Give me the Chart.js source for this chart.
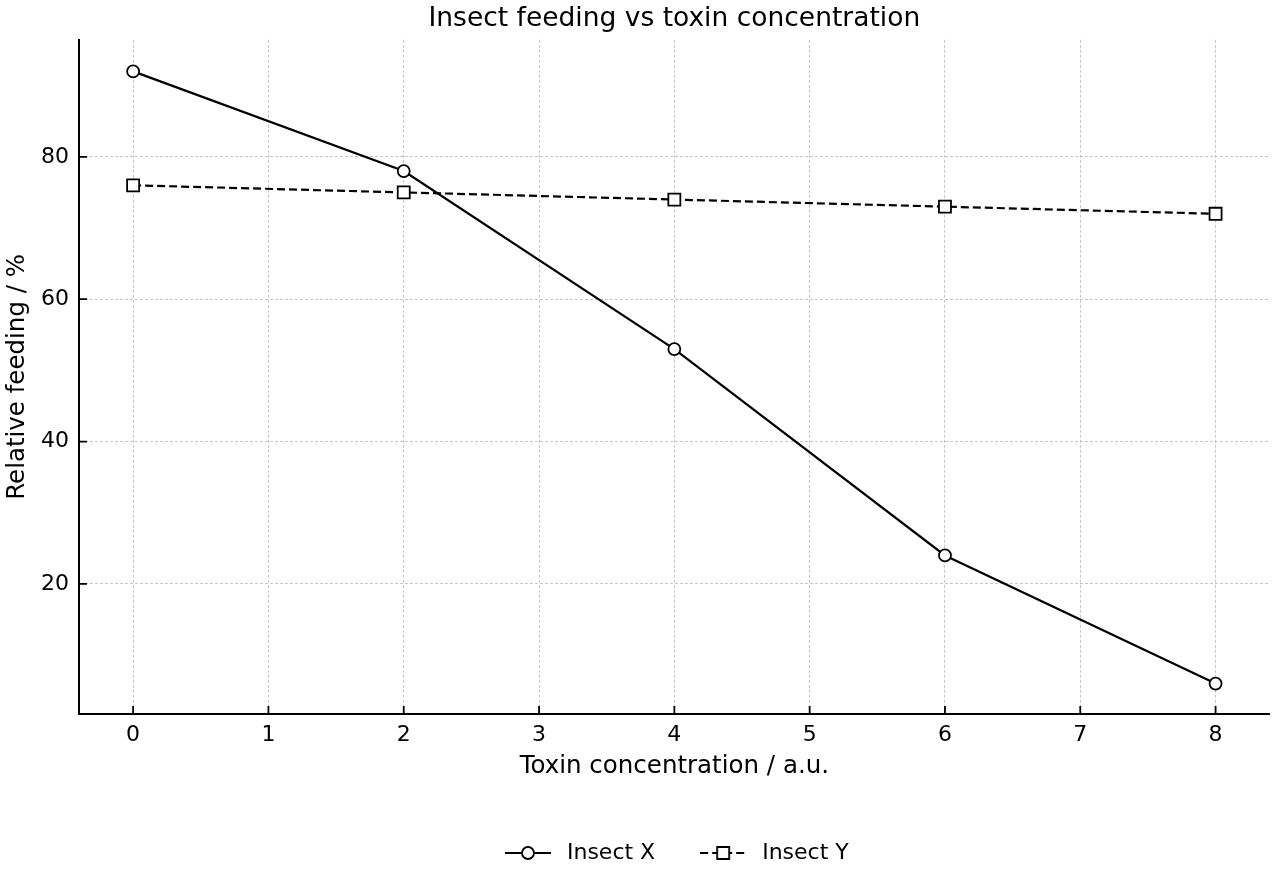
<!DOCTYPE html>
<html>
<head>
<meta charset="utf-8">
<title>Insect feeding vs toxin concentration</title>
<script src="https://cdn.jsdelivr.net/npm/chart.js@4.4.1/dist/chart.umd.min.js"></script>
<style>
  html, body { margin: 0; padding: 0; background: #fff; }
  #wrap { width: 1280px; height: 880px; }
</style>
</head>
<body>
<div id="wrap"><canvas id="chart" width="1280" height="880"></canvas></div>
<script>
// Dados do gráfico
const concentrations = [0, 2, 4, 6, 8];
const insectX = [92, 78, 53, 24, 6];
const insectY = [76, 75, 74, 73, 72];
const xTicks = [0, 1, 2, 3, 4, 5, 6, 7, 8];
const yTicks = [20, 40, 60, 80];

const FONT = '"DejaVu Sans", sans-serif';
Chart.defaults.font.family = FONT;
Chart.defaults.color = '#000';

const toPoints = (vals) => concentrations.map((c, i) => ({ x: c, y: vals[i] }));

// Amostra da legenda: linha + marcador
const legendSample = (style, dashed) => {
    const c = document.createElement('canvas');
    c.width = 46; c.height = 20;
    const g = c.getContext('2d');
    g.strokeStyle = '#000';
    g.lineWidth = 2.2;
    if (dashed) g.setLineDash([8, 4]);
    g.beginPath(); g.moveTo(0, 10); g.lineTo(46, 10); g.stroke();
    g.setLineDash([]);
    g.fillStyle = '#fff';
    g.lineWidth = 1.8;
    g.beginPath();
    if (style === 'circle') g.arc(23, 10, 6, 0, Math.PI * 2);
    else g.rect(17, 4, 12, 12);
    g.fill(); g.stroke();
    return c;
};

// Marcas de escala para dentro
const inwardTicks = {
    id: 'inwardTicks',
    afterDraw(chart) {
        const { ctx, chartArea, scales } = chart;
        ctx.save();
        ctx.strokeStyle = '#000';
        ctx.lineWidth = 1.8;
        ctx.beginPath();
        xTicks.forEach(v => {
            const px = scales.x.getPixelForValue(v);
            ctx.moveTo(px, chartArea.bottom);
            ctx.lineTo(px, chartArea.bottom - 8);
        });
        yTicks.forEach(v => {
            const py = scales.y.getPixelForValue(v);
            ctx.moveTo(chartArea.left, py);
            ctx.lineTo(chartArea.left + 8, py);
        });
        ctx.stroke();
        ctx.restore();
    }
};

const gridStyle = {
    color: '#b8b8b8',
    lineWidth: 0.8,
    drawTicks: false
};

new Chart(document.getElementById('chart'), {
    type: 'line',
    data: {
        datasets: [{
            label: 'Insect X',
            data: toPoints(insectX),
            borderColor: '#000',
            borderWidth: 2.2,
            pointStyle: 'circle',
            pointRadius: 6,
            pointBackgroundColor: '#fff',
            pointBorderColor: '#000',
            pointBorderWidth: 1.8,
            tension: 0
        }, {
            label: 'Insect Y',
            data: toPoints(insectY),
            borderColor: '#000',
            borderWidth: 2.2,
            borderDash: [8, 4],
            pointStyle: 'rect',
            pointRadius: 8.5,
            pointBackgroundColor: '#fff',
            pointBorderColor: '#000',
            pointBorderWidth: 1.8,
            tension: 0
        }]
    },
    options: {
        responsive: false,
        animation: false,
        layout: { padding: { left: 0, right: 0, top: 0, bottom: 6 } },
        plugins: {
            title: {
                display: true,
                fullSize: false,
                text: 'Insect feeding vs toxin concentration',
                font: { size: 26.5, weight: 'normal' },
                color: '#000',
                padding: { top: 3, bottom: 5 }
            },
            legend: {
                position: 'bottom',
                fullSize: false,
                labels: {
                    usePointStyle: true,
                    pointStyleWidth: 56,
                    padding: 40,
                    font: { size: 22 },
                    color: '#000',
                    generateLabels: () => [
                        { text: 'Insect X', pointStyle: legendSample('circle', false), datasetIndex: 0, lineWidth: 0, strokeStyle: 'transparent', fillStyle: 'transparent' },
                        { text: 'Insect Y', pointStyle: legendSample('rect', true), datasetIndex: 1, lineWidth: 0, strokeStyle: 'transparent', fillStyle: 'transparent' }
                    ]
                }
            },
            tooltip: { enabled: false }
        },
        scales: {
            x: {
                type: 'linear',
                min: -0.4,
                max: 8.4,
                afterBuildTicks: (s) => { s.ticks = xTicks.map(v => ({ value: v })); },
                afterFit: (s) => { s.height = 88; s.paddingLeft = 0; s.paddingRight = 0; },
                grid: { ...gridStyle },
                border: { display: true, color: '#000', width: 2, dash: [3, 2] },
                ticks: { padding: 8, font: { size: 22 }, color: '#000' },
                title: {
                    display: true,
                    text: 'Toxin concentration / a.u.',
                    font: { size: 24.5 },
                    color: '#000',
                    padding: { top: 4, bottom: 21 }
                }
            },
            y: {
                min: 1.73,
                max: 96.44,
                afterBuildTicks: (s) => { s.ticks = yTicks.map(v => ({ value: v })); },
                afterFit: (s) => { s.width = 79; },
                grid: { ...gridStyle },
                border: { display: true, color: '#000', width: 2, dash: [3, 2] },
                ticks: { padding: 10, font: { size: 22 }, color: '#000' },
                title: {
                    display: true,
                    text: 'Relative feeding / %',
                    font: { size: 24.5 },
                    color: '#000',
                    padding: { top: 3, bottom: 4 }
                }
            }
        }
    },
    plugins: [inwardTicks]
});
</script>
</body>
</html>
